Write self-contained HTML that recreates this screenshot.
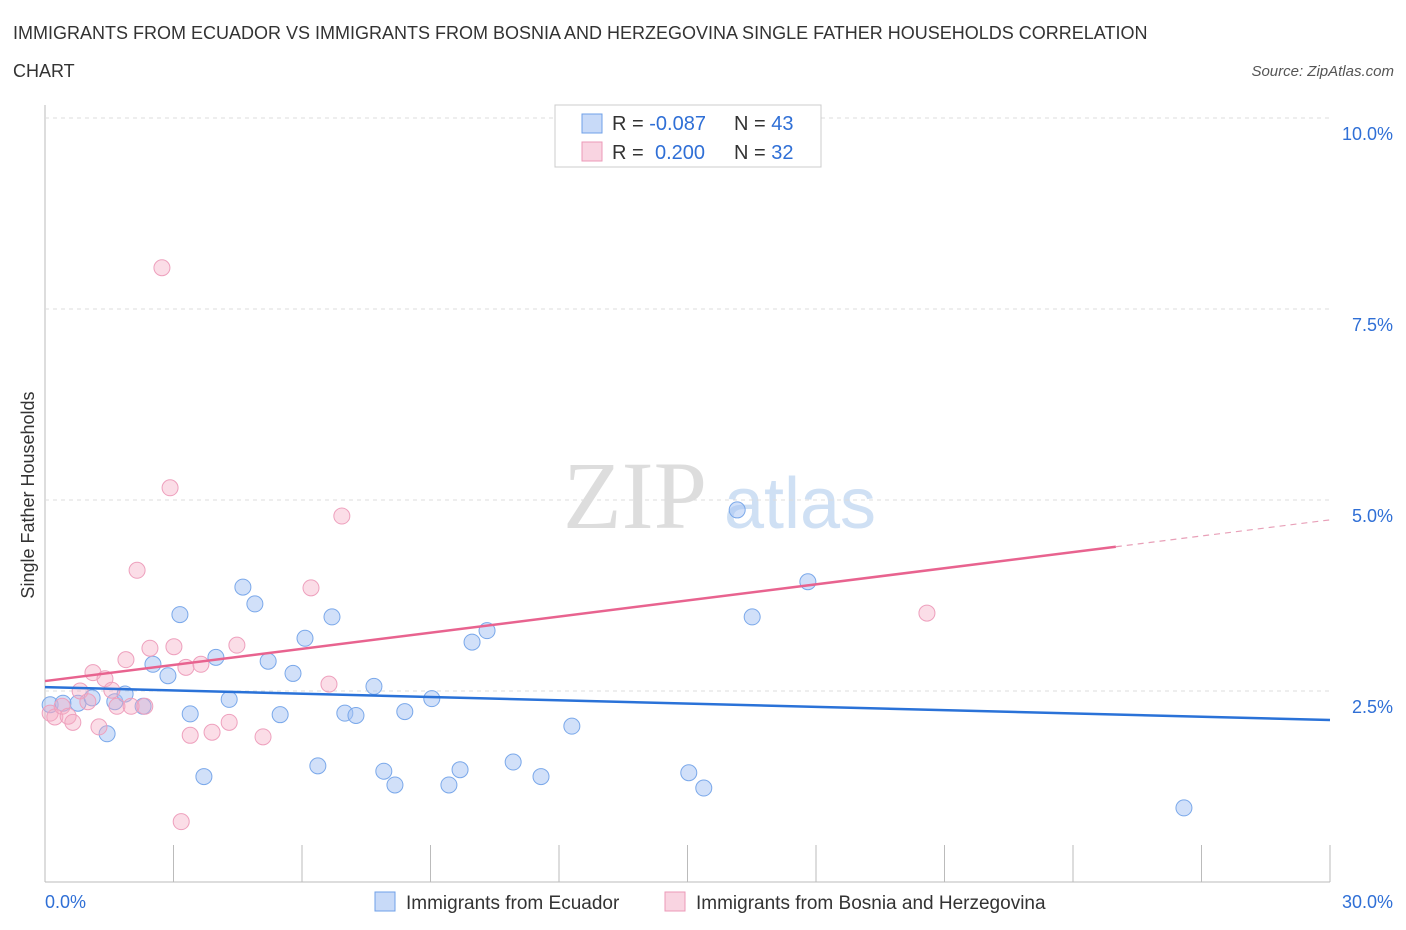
<!DOCTYPE html>
<html><head><meta charset="utf-8"><style>
body{margin:0;background:#fff;font-family:"Liberation Sans",sans-serif}
svg{display:block}
</style></head><body>
<svg width="1406" height="930">
<text x="13" y="39" font-size="18" fill="#333">IMMIGRANTS FROM ECUADOR VS IMMIGRANTS FROM BOSNIA AND HERZEGOVINA SINGLE FATHER HOUSEHOLDS CORRELATION</text>
<text x="13" y="77" font-size="18" fill="#333">CHART</text>
<text x="1394" y="76" font-size="15" fill="#555" font-style="italic" text-anchor="end">Source: ZipAtlas.com</text>
<text x="635" y="528" font-size="96" fill="#ddd" font-family="Liberation Serif,serif" text-anchor="middle">ZIP</text>
<text x="800" y="528" font-size="72" fill="#cfe0f4" text-anchor="middle">atlas</text>
<text transform="translate(34,495) rotate(-90)" font-size="18" fill="#333" text-anchor="middle">Single Father Households</text>
<g id="grid"></g><g id="marks"></g>
<g>
<rect x="555" y="105" width="266" height="62" fill="#fff" stroke="#ccc"/>
<rect x="582" y="114" width="20" height="19" fill="rgba(164,194,244,0.6)" stroke="#6fa0e8"/>
<rect x="582" y="142" width="20" height="19" fill="rgba(244,170,196,0.5)" stroke="#ec9ab8"/>
<text x="612" y="130" font-size="20" fill="#333">R = <tspan fill="#2f6fd6">-0.087</tspan><tspan x="734">N = </tspan><tspan fill="#2f6fd6">43</tspan></text>
<text x="612" y="159" font-size="20" fill="#333">R = <tspan fill="#2f6fd6" x="655">0.200</tspan><tspan x="734">N = </tspan><tspan fill="#2f6fd6">32</tspan></text>
</g>
<g>
<rect x="375" y="892" width="20" height="19" fill="rgba(164,194,244,0.6)" stroke="#6fa0e8"/>
<text x="406" y="909" font-size="19" fill="#333">Immigrants from Ecuador</text>
<rect x="665" y="892" width="20" height="19" fill="rgba(244,170,196,0.5)" stroke="#ec9ab8"/>
<text x="696" y="909" font-size="19" fill="#333">Immigrants from Bosnia and Herzegovina</text>
</g>
</svg>
<script>
const xTicks=[0,30];
const yTicks=[2.5,5.0,7.5,10.0];
const blueX=[0.12,0.42,0.77,1.10,1.45,1.63,1.87,2.29,2.52,2.87,3.15,3.39,3.71,3.99,4.30,4.62,4.90,5.21,5.49,5.79,6.07,6.37,6.70,7.00,7.26,7.68,7.91,8.17,8.40,9.03,9.43,9.69,9.97,10.32,10.93,11.58,12.30,15.03,15.38,16.16,16.51,17.81,26.59];
const blueY=[2.32,2.34,2.34,2.41,1.94,2.36,2.46,2.30,2.85,2.70,3.50,2.20,1.38,2.94,2.39,3.86,3.64,2.89,2.19,2.73,3.19,1.52,3.47,2.21,2.18,2.56,1.45,1.27,2.23,2.40,1.27,1.47,3.14,3.29,1.57,1.38,2.04,1.43,1.23,4.87,3.47,3.93,0.97];
const pinkX=[0.12,0.23,0.40,0.54,0.65,0.82,1.00,1.12,1.26,1.40,1.56,1.68,1.89,2.01,2.15,2.33,2.45,2.73,2.92,3.01,3.18,3.29,3.39,3.64,3.90,4.30,4.48,5.09,6.21,6.63,6.93,20.59];
const pinkY=[2.21,2.16,2.30,2.17,2.09,2.50,2.36,2.74,2.03,2.66,2.51,2.30,2.91,2.30,4.08,2.30,3.06,8.04,5.16,3.08,0.79,2.81,1.92,2.85,1.96,2.09,3.10,1.90,3.85,2.59,4.79,3.52];
const blueTrend=[2.55,2.12];
const pinkTrend=[2.63,4.74];
const pinkSolidEnd=25;
const NS='http://www.w3.org/2000/svg';
const X=v=>45+v/30*1285, Y=v=>882-v*76.4;
const grid=document.getElementById('grid'), marks=document.getElementById('marks');
function mk(t,a,p){const e=document.createElementNS(NS,t);for(const k in a)e.setAttribute(k,a[k]);p.appendChild(e);return e;}
let ax=mk('line',{x1:45,y1:105,x2:45,y2:882,stroke:'#bbb'},grid);


let bx=mk('line',{x1:45,y1:882,x2:1330,y2:882,stroke:'#bbb'},grid);


for(let i=1;i<=10;i++){let t=mk('line',{x1:X(i*3),x2:X(i*3),y1:845,y2:882,stroke:'#bbb'},grid);

}
yTicks.forEach(v=>{let g=mk('line',{x1:45,x2:1330,y1:Y(v),y2:Y(v),stroke:'#ddd','stroke-dasharray':'4,4'},grid);


let t=mk('text',{x:1393,y:Y(v)+22,'font-size':18,fill:'#2f6fd6','text-anchor':'end'},grid);t.textContent=v.toFixed(1)+'%';

});
xTicks.forEach((v,i)=>{let t=mk('text',{x:i?1393:45,y:908,'font-size':18,fill:'#2f6fd6','text-anchor':i?'end':'start'},grid);t.textContent=v.toFixed(1)+'%';

});
blueX.forEach((v,i)=>{let c=mk('circle',{cx:X(v),cy:Y(blueY[i]),r:8,fill:'rgba(164,194,244,0.5)',stroke:'#7aa8ea','stroke-width':1},marks);

});
pinkX.forEach((v,i)=>{let c=mk('circle',{cx:X(v),cy:Y(pinkY[i]),r:8,fill:'rgba(244,170,196,0.4)',stroke:'#eea0bd','stroke-width':1},marks);

});
let bl=mk('line',{x1:X(0),y1:Y(blueTrend[0]),x2:X(30),y2:Y(blueTrend[1]),stroke:'#2a72d8','stroke-width':2.5},marks);


const pAt=x=>pinkTrend[0]+(pinkTrend[1]-pinkTrend[0])*x/30;
let pl=mk('line',{x1:X(0),y1:Y(pAt(0)),x2:X(pinkSolidEnd),y2:Y(pAt(pinkSolidEnd)),stroke:'#e8638f','stroke-width':2.5},marks);


let pd=mk('line',{x1:X(pinkSolidEnd),y1:Y(pAt(pinkSolidEnd)),x2:X(30),y2:Y(pAt(30)),stroke:'#e8a0b8','stroke-width':1.2,'stroke-dasharray':'6,5'},marks);


</script>
</body></html>
